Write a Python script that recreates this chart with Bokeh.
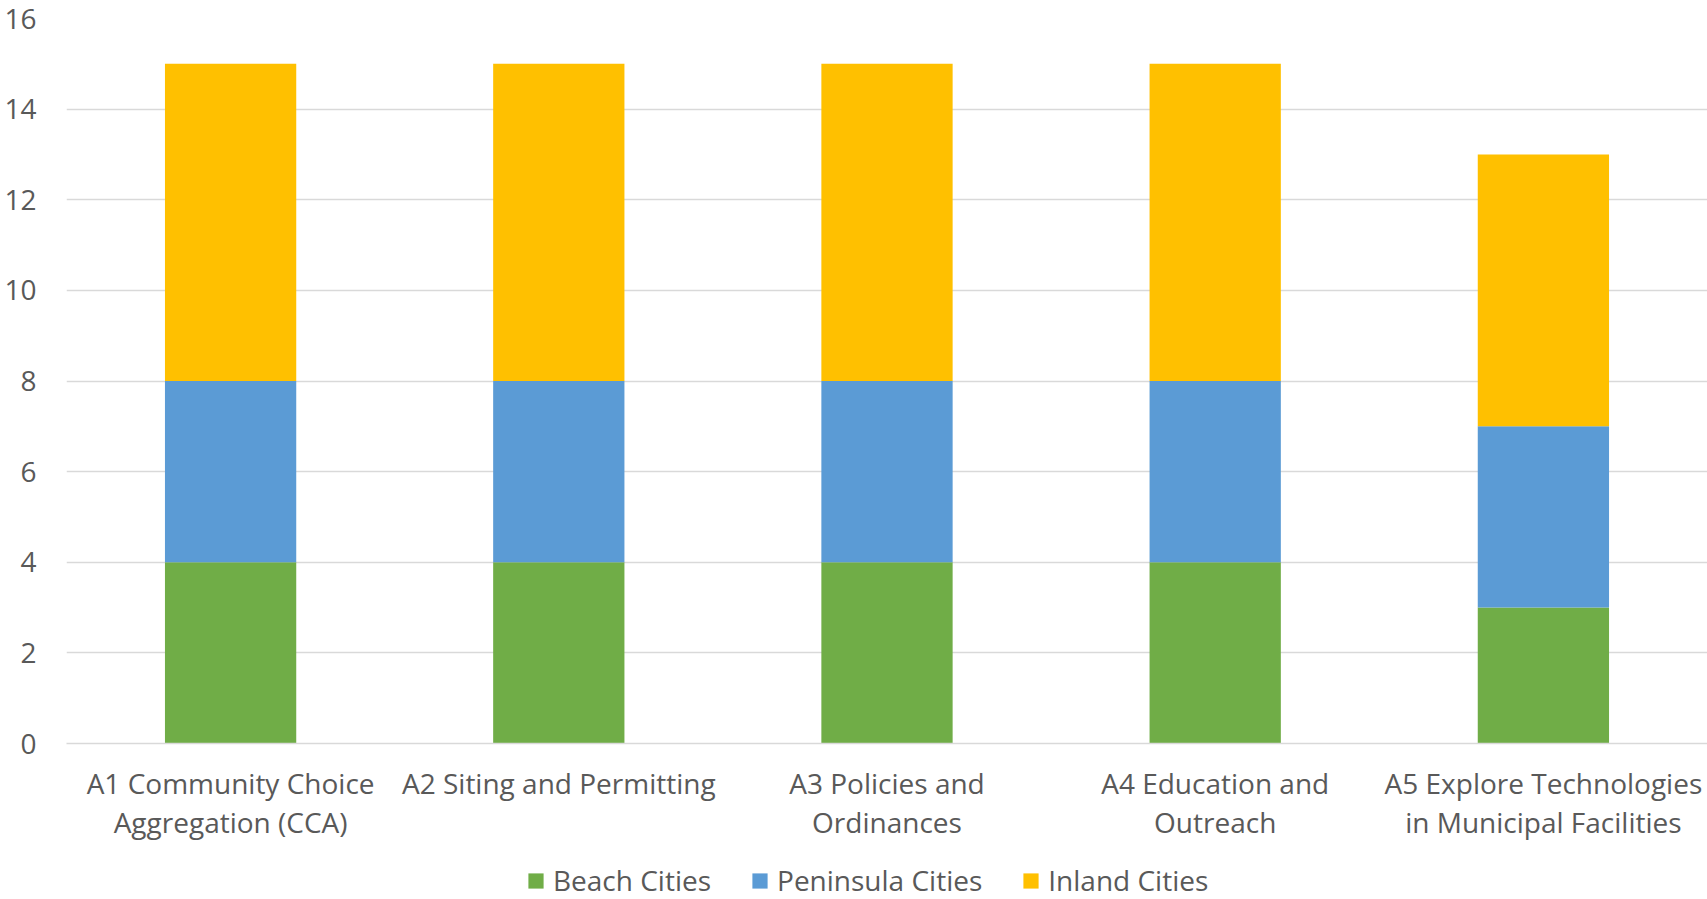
from bokeh.plotting import figure
from bokeh.models import Legend, LegendItem, FactorRange
from bokeh.layouts import column
from bokeh.embed import file_html
from bokeh.resources import INLINE

categories = ["A1 Community Choice\nAggregation (CCA)", "A2 Siting and Permitting",
              "A3 Policies and\nOrdinances", "A4 Education and\nOutreach",
              "A5 Explore Technologies\nin Municipal Facilities"]
beach = [4, 4, 4, 4, 3]
peninsula = [4, 4, 4, 4, 4]
inland = [7, 7, 7, 7, 6]
series_names = ["Beach Cities", "Peninsula Cities", "Inland Cities"]
colors = ["#70AD47", "#5B9BD5", "#FFC000"]
FONT = "Open Sans"
TXT = "#595959"

data = dict(cat=categories, beach=beach, peninsula=peninsula, inland=inland)

p = figure(width=1707, height=859, x_range=FactorRange(*categories), y_range=(0, 16),
           output_backend="svg", toolbar_location=None,
           min_border_left=66, min_border_right=0, min_border_top=18, min_border_bottom=116)

r = p.vbar_stack(["beach", "peninsula", "inland"], x="cat", width=0.4, source=data,
                 color=colors, line_color=None)

p.outline_line_color = None
p.xgrid.grid_line_color = None
p.ygrid.grid_line_color = "#D9D9D9"
p.ygrid.grid_line_width = 1.5
p.yaxis.ticker = list(range(0, 17, 2))
p.yaxis.axis_line_color = None
p.yaxis.major_tick_line_color = None
p.yaxis.minor_tick_line_color = None
p.yaxis.major_label_standoff = 24
p.yaxis.major_label_text_font = FONT
p.yaxis.major_label_text_font_size = "28px"
p.yaxis.major_label_text_color = TXT

p.xaxis.axis_line_color = "#D9D9D9"
p.xaxis.axis_line_width = 1.5
p.xaxis.major_tick_line_color = None
p.xaxis.minor_tick_line_color = None
p.xaxis.major_label_standoff = 14
p.xaxis.major_label_text_font = FONT
p.xaxis.major_label_text_font_size = "28px"
p.xaxis.major_label_text_color = TXT
p.xaxis.major_label_text_line_height = 1.05

# legend strip (bars drawn off-range so only the legend shows)
lg = figure(width=1707, height=40, output_backend="svg", toolbar_location=None,
            min_border_left=0, min_border_right=0, min_border_top=0, min_border_bottom=0,
            x_range=FactorRange(*categories), y_range=(100, 101))
lg.axis.visible = False
lg.grid.visible = False
lg.outline_line_color = None
lr = lg.vbar_stack(["beach", "peninsula", "inland"], x="cat", width=0.4, source=data,
                   color=colors, line_color=None)
legend = Legend(items=[LegendItem(label=n, renderers=[rr]) for n, rr in zip(series_names, lr)],
                orientation="horizontal", location=(460, 0),
                label_text_font=FONT, label_text_font_size="28px",
                label_text_color=TXT, glyph_width=19, glyph_height=19,
                label_standoff=8, spacing=39, border_line_color=None,
                background_fill_alpha=0, padding=0, margin=0)
lg.add_layout(legend, "center")

layout = column(p, lg, spacing=0)
open("out.html", "w").write(file_html(layout, INLINE))
